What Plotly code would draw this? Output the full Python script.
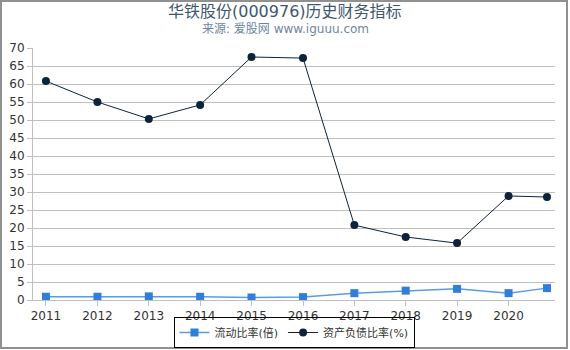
import plotly.graph_objects as go

dates = ["2011-12-31", "2012-12-31", "2013-12-31", "2014-12-31", "2015-12-31",
         "2016-12-31", "2017-12-31", "2018-12-31", "2019-12-31", "2020-12-31", "2021-09-30"]
current_ratio = [0.9, 0.9, 1.0, 0.9, 0.7, 0.8, 1.9, 2.6, 3.1, 1.9, 3.3]
debt_ratio = [60.8, 55.0, 50.3, 54.2, 67.5, 67.2, 20.8, 17.5, 15.8, 28.9, 28.6]
tick_dates = ["2011-12-31", "2012-12-31", "2013-12-31", "2014-12-31", "2015-12-31",
              "2016-12-31", "2017-12-31", "2018-12-31", "2019-12-31", "2020-12-31"]
tick_labels = ["2011", "2012", "2013", "2014", "2015", "2016", "2017", "2018", "2019", "2020"]
y_ticks = list(range(0, 75, 5))

W, H = 570, 350
L, R, T, B = 33, 15, 48, 50
pw, ph = W - L - R, H - T - B

def px(x):
    return (x - L) / pw

def py(y):
    return (H - B - y) / ph

font = "DejaVu Sans, Noto Sans CJK SC, sans-serif"

fig = go.Figure()
fig.add_trace(go.Scatter(
    x=dates, y=current_ratio, name="流动比率(倍)", mode="lines+markers",
    line=dict(color="#5a9be6", width=1.5),
    marker=dict(symbol="square", size=8, color="#2f7ed8"),
))
fig.add_trace(go.Scatter(
    x=dates, y=debt_ratio, name="资产负债比率(%)", mode="lines+markers",
    line=dict(color="#0d233a", width=1),
    marker=dict(symbol="circle", size=8, color="#0d233a"),
))

fig.update_layout(
    width=W, height=H,
    margin=dict(l=L, r=R, t=T, b=B, autoexpand=False),
    paper_bgcolor="white", plot_bgcolor="white",
    font=dict(family=font, size=12, color="#333"),
    xaxis=dict(
        type="date", range=["2011-09-30", "2021-11-26"],
        tickmode="array", tickvals=tick_dates, ticktext=tick_labels,
        showgrid=False, showline=True, linecolor="#c0c0c0", linewidth=1,
        ticks="outside", ticklen=5, tickcolor="#c0c0c0",
        tickfont=dict(size=12, color="#333"), zeroline=False,
    ),
    yaxis=dict(
        range=[0, 70], tickmode="array", tickvals=y_ticks,
        showgrid=True, gridcolor="#c0c0c0", gridwidth=1,
        showline=True, linecolor="#c0c0c0", linewidth=1,
        ticks="outside", ticklen=5, tickcolor="#c0c0c0",
        tickfont=dict(size=12, color="#333"), zeroline=False,
    ),
    legend=dict(
        orientation="h", x=0.5, xanchor="center", y=py(348), yanchor="bottom",
        bordercolor="#000", borderwidth=1, bgcolor="rgba(255,255,255,0)",
        font=dict(size=11, color="#333"), itemwidth=30,
    ),
    showlegend=True,
    annotations=[
        dict(text="华铁股份(000976)历史财务指标", xref="paper", yref="paper",
             x=px(285), y=py(11), xanchor="center", yanchor="middle", showarrow=False,
             font=dict(size=16, color="#3E576F", family=font)),
        dict(text="来源: 爱股网 www.iguuu.com", xref="paper", yref="paper",
             x=px(285), y=py(29), xanchor="center", yanchor="middle", showarrow=False,
             font=dict(size=12, color="#6D869F", family=font)),
    ],
    shapes=[dict(type="rect", xref="paper", yref="paper",
                 x0=px(1), x1=px(567), y0=py(348), y1=py(1),
                 line=dict(color="#909090", width=2), layer="below")],
)

fig.write_html("out.html")
